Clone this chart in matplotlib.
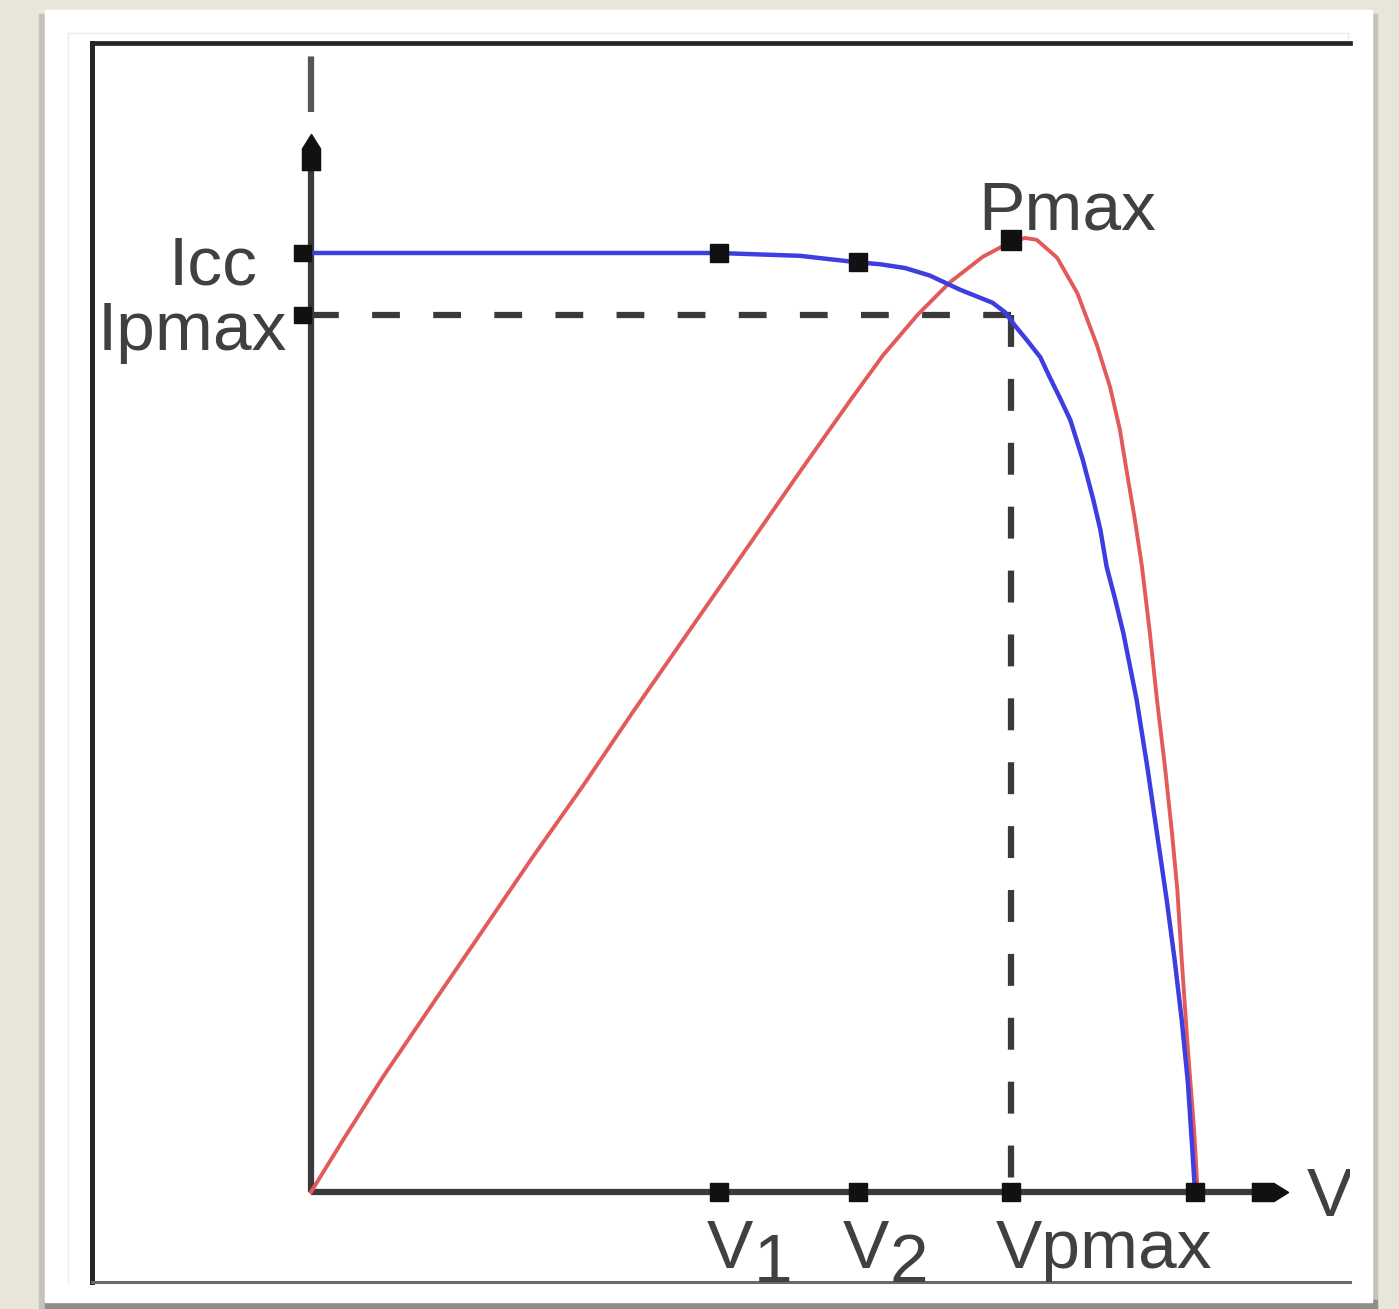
import matplotlib
matplotlib.use("Agg")
import numpy as np
import matplotlib.pyplot as plt
from matplotlib.patches import Rectangle
from matplotlib.lines import Line2D
from matplotlib.path import Path

plt.rcParams['font.family'] = ['Liberation Sans', 'DejaVu Sans']
plt.rcParams['lines.scale_dashes'] = False

# Characteristic points (normalised units: V / Voc, I / Icc)
V1 = 0.462
V2 = 0.619
V_PMAX = 0.792
V_OC = 1.0
I_CC = 1.0
I_PMAX = 0.934
P_MAX = 1.014

# I-V curve of the cell
iv_v = [0.000, 0.214, 0.460, 0.553, 0.619, 0.644, 0.672, 0.700, 0.734, 0.771,
        0.785, 0.796, 0.810, 0.825, 0.836, 0.847, 0.859, 0.873, 0.885, 0.893,
        0.900, 0.910, 0.919, 0.934, 0.946, 0.957, 0.968, 0.977, 0.985, 0.992,
        0.997, 1.000]
iv_i = [1.000, 1.000, 1.000, 0.997, 0.990, 0.988, 0.984, 0.976, 0.961, 0.947,
        0.937, 0.923, 0.907, 0.889, 0.867, 0.846, 0.822, 0.780, 0.737, 0.705,
        0.666, 0.630, 0.595, 0.524, 0.453, 0.382, 0.311, 0.247, 0.183, 0.116,
        0.045, 0.000]

# P-V curve of the cell (same vertical scale, arbitrary units)
pv_v = [0.000, 0.036, 0.081, 0.138, 0.183, 0.251, 0.308, 0.364, 0.440, 0.497,
        0.553, 0.610, 0.647, 0.686, 0.723, 0.760, 0.792, 0.808, 0.821, 0.844,
        0.867, 0.889, 0.904, 0.915, 0.923, 0.932, 0.940, 0.949, 0.957, 0.966,
        0.974, 0.980, 0.985, 0.992, 0.999, 1.003]
pv_p = [0.000, 0.055, 0.122, 0.201, 0.263, 0.357, 0.433, 0.511, 0.614, 0.691,
        0.767, 0.843, 0.891, 0.934, 0.969, 0.996, 1.012, 1.016, 1.014, 0.995,
        0.957, 0.902, 0.857, 0.812, 0.766, 0.716, 0.666, 0.595, 0.524, 0.453,
        0.382, 0.322, 0.247, 0.151, 0.066, 0.000]

W, H = 1399, 1309
BG = '#e8e6db'
AX_C = '#3a3a3a'
TXT_C = '#404040'
BLUE = '#3e3ee0'
RED = '#e25a5a'
FS = 50


def fx(px):
    return px / W


def fy(py):
    return 1 - py / H


fig = plt.figure(figsize=(W / 100, H / 100), dpi=100, facecolor=BG)

# paper sheet with a soft shadow
fig.patches.append(Rectangle((fx(39), fy(1309)), fx(1377) - fx(39), fy(14) - fy(1309),
                             transform=fig.transFigure, color='#c4c3ba', zorder=-4))
fig.patches.append(Rectangle((fx(45), fy(1309)), fx(1377) - fx(45), fy(1300) - fy(1309),
                             transform=fig.transFigure, color='#8f8e89', zorder=-3))
fig.patches.append(Rectangle((fx(45), fy(1302)), fx(1372) - fx(45), fy(10) - fy(1302),
                             transform=fig.transFigure, color='white', zorder=-2))
for xs, ys in [([68, 68], [33, 1283]), ([68, 1348], [33, 33]), ([1348, 1348], [33, 1283])]:
    fig.lines.append(Line2D([fx(x) for x in xs], [fy(y) for y in ys],
                            transform=fig.transFigure, color='#ececec', lw=1, zorder=-1))

# plotting area framed on top, left and bottom
ax = fig.add_axes([fx(92), fy(1282), fx(1350) - fx(92), fy(43) - fy(1282)])
ax.set_zorder(5)
ax.set_xlim(-0.24774, 1.17534)
ax.set_ylim(-0.09585, 1.22364)
ax.set_xticks([])
ax.set_yticks([])
ax.set_facecolor('white')
ax.spines['right'].set_visible(False)
ax.spines['top'].set_color('#262626')
ax.spines['top'].set_linewidth(3.4)
ax.spines['left'].set_color('#262626')
ax.spines['left'].set_linewidth(3.6)
ax.spines['bottom'].set_color('#6a6a6a')
ax.spines['bottom'].set_linewidth(2.2)

Y_ARROW = 1.108
X_ARROW = 1.085

# coordinate axes with arrow heads
ax.plot([0, 0], [0, Y_ARROW], color=AX_C, lw=4.5, solid_capstyle='butt', zorder=2)
ax.plot([0, X_ARROW], [0, 0], color=AX_C, lw=4.5, solid_capstyle='butt', zorder=2)
ax.plot([0, 0], [1.150, 1.224], color='#555555', lw=4.5, dashes=(40, 40), zorder=2)

up_head = Path([(-0.5, -1), (0.5, -1), (0.5, 0.2), (0, 1), (-0.5, 0.2), (-0.5, -1)],
               [Path.MOVETO] + [Path.LINETO] * 4 + [Path.CLOSEPOLY])
right_head = Path([(-1, -0.5), (0.2, -0.5), (1, 0), (0.2, 0.5), (-1, 0.5), (-1, -0.5)],
                  [Path.MOVETO] + [Path.LINETO] * 4 + [Path.CLOSEPOLY])
ax.plot(0, Y_ARROW, marker=up_head, ms=26, color='#111111', ls='none', zorder=5)
ax.plot(X_ARROW, 0, marker=right_head, ms=26, color='#111111', ls='none', zorder=5)

# projections of the maximum power point
ax.plot([0, V_PMAX], [I_PMAX, I_PMAX], color=AX_C, lw=4.5, dashes=(20, 24),
        solid_capstyle='butt', zorder=2)
ax.plot([V_PMAX, V_PMAX], [I_PMAX, 0], color=AX_C, lw=4.5, dashes=(23, 23),
        solid_capstyle='butt', zorder=2)

# curves
ax.plot(pv_v, pv_p, color=RED, lw=2.8, zorder=3, solid_joinstyle='round')
ax.plot(iv_v, iv_i, color=BLUE, lw=3.2, zorder=4, solid_joinstyle='round')

# markers
left_tick = Path([(-1, -0.5), (0, -0.5), (0, 0.5), (-1, 0.5), (-1, -0.5)],
                 [Path.MOVETO] + [Path.LINETO] * 3 + [Path.CLOSEPOLY])
ax.plot([0, 0], [I_CC, I_PMAX], marker=left_tick, ms=24, color='#111111', ls='none', zorder=6)
ax.plot([V1, V2, V_PMAX, V_OC], [0, 0, 0, 0], 's', ms=13, color='#111111', zorder=6)
ax.plot([V1, V2], np.interp([V1, V2], iv_v, iv_i), 's', ms=13, color='#111111', zorder=6)
ax.plot(V_PMAX, P_MAX, 's', ms=14.5, color='#111111', zorder=6)

PT = 72 / 100  # points per pixel


def label(text, xy, dx_px, dy_px, ha='left', clip=False):
    ax.annotate(text, xy=xy, xytext=(dx_px * PT, dy_px * PT), textcoords='offset points',
                ha=ha, va='baseline', fontsize=FS, color=TXT_C, zorder=7,
                annotation_clip=False, clip_on=clip)


label('Icc', (0, I_CC), -53, -32, ha='right')
label('Ipmax', (0, I_PMAX), -24, -35, ha='right')
label('Pmax', (V_PMAX, P_MAX), -33, 10)

label('V', (V1, 0), -13, -76)
label('1', (V1, 0), 34, -90)
label('V', (V2, 0), -16, -76)
label('2', (V2, 0), 31, -90)
label('Vpmax', (V_PMAX, 0), -15, -76)
label('V', (X_ARROW, 0), 37, -24, clip=True)

fig.savefig('out.png', dpi=100, facecolor=fig.get_facecolor())
